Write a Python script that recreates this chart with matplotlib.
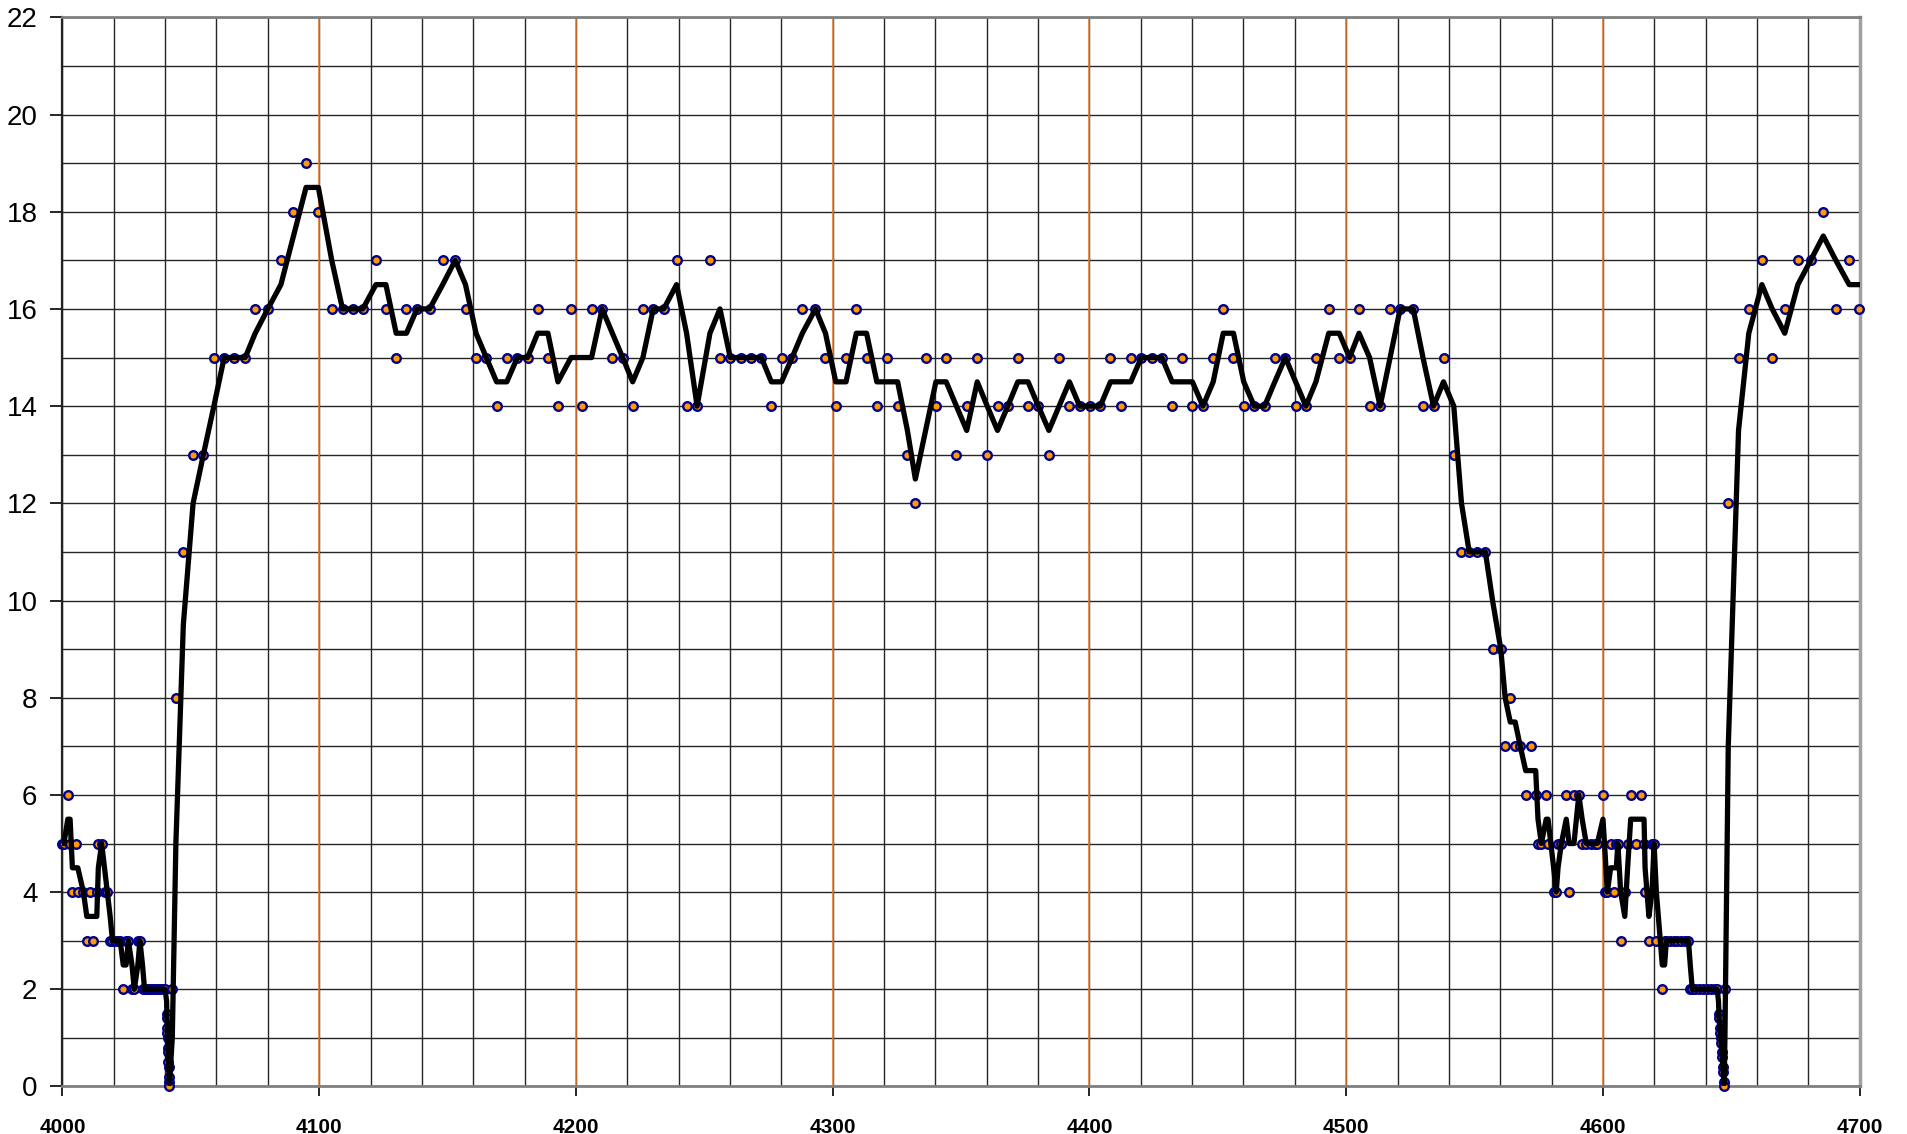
import pandas as pd
import matplotlib.pyplot as plt
from matplotlib.ticker import MultipleLocator

plt.rcParams['font.family'] = ['Liberation Sans', 'DejaVu Sans']

# measured points (distance, speed)
dist = [
    4000.0, 4000.6, 4002.1, 4003.0, 4003.9, 4005.2, 4006.0, 4008.2, 4009.5, 4010.8,
    4012.1, 4013.4, 4014.0, 4015.3, 4016.4, 4017.5, 4018.6, 4019.5, 4020.3, 4021.5,
    4022.5, 4023.7, 4024.8, 4025.7, 4027.1, 4028.0, 4029.4, 4030.2, 4031.2, 4032.0,
    4033.0, 4034.0, 4035.0, 4036.0, 4037.0, 4038.0, 4039.0, 4040.0,
    4040.6, 4040.7, 4040.8, 4040.9, 4041.0, 4041.1, 4041.2, 4041.3, 4041.4, 4041.5,
    4041.6, 4041.7,
    4042.8, 4044.2, 4047.1, 4050.9, 4054.9, 4059.0, 4063.0, 4067.0, 4071.2, 4075.1,
    4080.0, 4085.1, 4090.0, 4094.9, 4099.7, 4104.9, 4109.1, 4113.1, 4117.0, 4122.1,
    4126.0, 4130.0, 4134.0, 4138.1, 4143.0, 4148.1, 4153.0, 4157.0, 4161.1, 4165.1,
    4169.1, 4173.1, 4177.2, 4181.2, 4185.1, 4189.1, 4193.0, 4198.1, 4202.2, 4206.1,
    4210.2, 4214.2, 4218.2, 4222.1, 4226.1, 4230.1, 4234.2, 4239.2, 4243.1, 4247.2,
    4252.2, 4256.1, 4260.1, 4264.2, 4268.2, 4272.2, 4276.1, 4280.1, 4284.2, 4288.2,
    4293.3, 4297.2, 4301.2, 4305.2, 4309.2, 4313.2, 4317.2, 4321.3, 4325.3, 4329.1,
    4332.2, 4336.2, 4340.2, 4344.2, 4348.2, 4352.2, 4356.3, 4360.2, 4364.2, 4368.2,
    4372.1, 4376.1, 4380.1, 4384.2, 4388.2, 4392.2, 4396.2, 4400.1, 4404.2, 4408.2,
    4412.1, 4416.1, 4420.2, 4424.2, 4428.2, 4432.2, 4436.2, 4440.1, 4444.2, 4448.2,
    4452.1, 4456.1, 4460.1, 4464.2, 4468.2, 4472.2, 4476.3, 4480.3, 4484.3, 4488.2,
    4493.2, 4497.3, 4501.3, 4505.0, 4509.1, 4513.2, 4517.1, 4521.0, 4526.1, 4529.9,
    4534.0, 4537.9, 4541.9, 4544.9, 4547.9, 4550.9, 4554.2, 4557.0, 4560.2, 4561.9,
    4563.9, 4565.8, 4567.8, 4569.9, 4571.8, 4573.8, 4574.7, 4576.0, 4577.9, 4578.6,
    4580.8, 4581.8, 4582.5, 4583.8, 4585.7, 4586.8, 4588.7, 4590.6, 4591.9, 4593.5,
    4595.5, 4596.8, 4597.8, 4600.0, 4600.6, 4601.7, 4603.0, 4604.2, 4605.2, 4605.8,
    4606.9, 4608.5, 4609.6, 4610.8, 4612.9, 4614.9, 4616.0, 4616.4, 4617.9, 4619.1,
    4619.9, 4620.8, 4623.1, 4624.0, 4624.7, 4626.0, 4627.5, 4629.0, 4630.5, 4632.0,
    4633.3, 4634.0, 4634.8, 4636.0, 4637.5, 4639.0, 4640.5, 4642.0, 4643.5, 4644.5,
    4645.0, 4645.2, 4645.4, 4645.6, 4645.8, 4646.0, 4646.2, 4646.4, 4646.6, 4646.8,
    4647.0, 4647.2,
    4647.5, 4648.8, 4652.8, 4656.8, 4661.9, 4665.9, 4670.8, 4675.9, 4680.9, 4685.8,
    4690.7, 4695.9, 4699.7,
]
speed = [
    5, 5, 6, 5, 4, 5, 4, 4, 3, 4,
    3, 4, 5, 5, 4, 4, 3, 3, 3, 3,
    3, 2, 3, 3, 2, 2, 3, 3, 2, 2,
    2, 2, 2, 2, 2, 2, 2, 2,
    1.5, 1.4, 1.2, 1.1, 1.0, 0.8, 0.7, 0.5, 0.4, 0.2,
    0.1, 0.0,
    2, 8, 11, 13, 13, 15, 15, 15, 15, 16,
    16, 17, 18, 19, 18, 16, 16, 16, 16, 17,
    16, 15, 16, 16, 16, 17, 17, 16, 15, 15,
    14, 15, 15, 15, 16, 15, 14, 16, 14, 16,
    16, 15, 15, 14, 16, 16, 16, 17, 14, 14,
    17, 15, 15, 15, 15, 15, 14, 15, 15, 16,
    16, 15, 14, 15, 16, 15, 14, 15, 14, 13,
    12, 15, 14, 15, 13, 14, 15, 13, 14, 14,
    15, 14, 14, 13, 15, 14, 14, 14, 14, 15,
    14, 15, 15, 15, 15, 14, 15, 14, 14, 15,
    16, 15, 14, 14, 14, 15, 15, 14, 14, 15,
    16, 15, 15, 16, 14, 14, 16, 16, 16, 14,
    14, 15, 13, 11, 11, 11, 11, 9, 9, 7,
    8, 7, 7, 6, 7, 6, 5, 5, 6, 5,
    4, 4, 5, 5, 6, 4, 6, 6, 5, 5,
    5, 5, 5, 6, 4, 4, 5, 4, 5, 5,
    3, 4, 5, 6, 5, 6, 5, 4, 3, 5,
    5, 3, 2, 3, 3, 3, 3, 3, 3, 3,
    3, 2, 2, 2, 2, 2, 2, 2, 2, 2,
    1.5, 1.4, 1.2, 1.1, 1.0, 0.9, 0.7, 0.6, 0.4, 0.3,
    0.1, 0.0,
    2, 12, 15, 16, 17, 15, 16, 17, 17, 18,
    16, 17, 16,
]

# 2-point moving average trendline, as in the original sheet
trend = pd.Series(speed).rolling(2).mean()

fig = plt.figure(figsize=(19.08, 11.34), dpi=100)
ax = fig.add_axes([0.0327, 0.0419, 0.9420, 0.9428])
ax.set_xlim(4000, 4700)
ax.set_ylim(0, 22)

ax.xaxis.set_major_locator(MultipleLocator(100))
ax.xaxis.set_minor_locator(MultipleLocator(20))
ax.yaxis.set_major_locator(MultipleLocator(2))
ax.yaxis.set_minor_locator(MultipleLocator(1))
ax.set_axisbelow(True)
ax.grid(which='both', color='#262626', lw=1.0)
for xo in range(4100, 4700, 100):
    ax.axvline(xo, color='#F07A28', lw=1.1, zorder=1.5)

ax.plot(dist, speed, 'o', ls='none', ms=6.2, mfc='#FF9A00', mec='#00008B',
        mew=1.7, zorder=3, clip_on=False)
ax.plot(dist, trend, color='black', lw=3.8, zorder=4)

ax.tick_params(which='minor', length=0)
ax.tick_params(axis='y', which='major', length=9, width=1.2, labelsize=20, pad=9)
ax.tick_params(axis='x', which='major', length=7, width=1.2, labelsize=15, pad=16)
for lbl in ax.get_xticklabels():
    lbl.set_fontweight('bold')

ax.spines['left'].set_color('#222222')
ax.spines['left'].set_linewidth(1.6)
ax.spines['bottom'].set_color('#808080')
ax.spines['bottom'].set_linewidth(2)
ax.spines['top'].set_color('#808080')
ax.spines['top'].set_linewidth(2)
ax.spines['right'].set_color('#A0A0A0')
ax.spines['right'].set_linewidth(2.5)

fig.savefig('out.png', dpi=100)
